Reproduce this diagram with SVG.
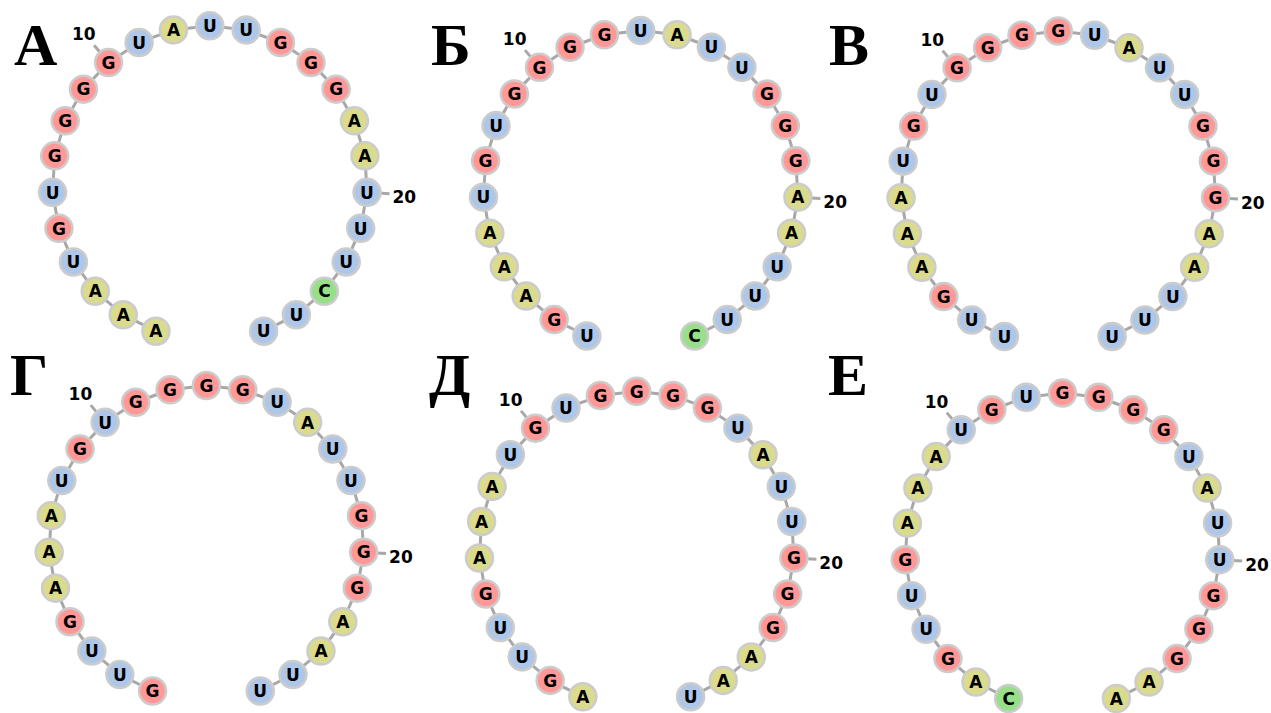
<svg xmlns="http://www.w3.org/2000/svg" xmlns:xlink="http://www.w3.org/1999/xlink" width="1271" height="713" viewBox="0 0 1271 713">
<style>
.bb{fill:none;stroke:#a8a8a8;stroke-width:3;stroke-linejoin:round}
.tk{fill:none;stroke:#a8a8a8;stroke-width:3}
.n circle{stroke:#cccccc;stroke-width:2.5}
.n text{font-family:"DejaVu Sans",Verdana,sans-serif;font-weight:bold;font-size:17px;text-anchor:middle;fill:#000;stroke:none}
.A circle{fill:#dbdb8d}
.U circle{fill:#aec7e8}
.G circle{fill:#ff9896}
.C circle{fill:#98df8a}
.num{font-family:"DejaVu Sans",Verdana,sans-serif;font-weight:bold;font-size:17px;text-anchor:middle;fill:#000}
.title{font-family:"Liberation Serif","Times New Roman",serif;font-weight:bold;font-size:60px;fill:#000}
</style>
<defs>
<polyline id="backbone" class="bb" points="-53.87,148 -86.55,131.59 -114.56,108.08 -136.4,78.75 -150.88,45.17 -157.23,9.16 -155.11,-27.35 -144.62,-62.38 -126.33,-94.05 -101.24,-120.65 -70.69,-140.75 -36.32,-153.26 0,-157.5 36.32,-153.26 70.69,-140.75 101.24,-120.65 126.33,-94.05 144.62,-62.38 155.11,-27.35 157.23,9.16 150.88,45.17 136.4,78.75 114.56,108.08 86.55,131.59 53.87,148"/>
<path id="ticks" class="tk" d="M-101.24,-120.65 L-115.7,-137.89 M157.23,9.16 L179.7,10.47"/>
</defs>

<g id="titles">
<text class="title" x="14" y="65">А</text>
<text class="title" x="431" y="65">Б</text>
<text class="title" x="829" y="65">В</text>
<text class="title" x="10" y="395">Г</text>
<text class="title" x="429" y="395">Д</text>
<text class="title" x="828" y="395">Е</text>
</g>

<g id="connectors">
<g transform="translate(209.8,183.2)"><use xlink:href="#backbone"/><use xlink:href="#ticks"/></g>
<g transform="translate(640.7,188)"><use xlink:href="#backbone"/><use xlink:href="#ticks"/></g>
<g transform="translate(1058.3,188.5)"><use xlink:href="#backbone"/><use xlink:href="#ticks"/></g>
<g transform="translate(206.4,543)"><use xlink:href="#backbone"/><use xlink:href="#ticks"/></g>
<g transform="translate(636.7,548.8)"><use xlink:href="#backbone"/><use xlink:href="#ticks"/></g>
<g transform="translate(1062.5,550.5)"><use xlink:href="#backbone"/><use xlink:href="#ticks"/></g>
</g>

<g id="panel-A" transform="translate(209.8,183.2)">
<text class="num" x="-126" y="-143">10</text>
<text class="num" x="194.5" y="20.1">20</text>
<g id="A-1" class="n A" transform="translate(-53.87,148)"><circle r="13.5"/><text y="6.2">A</text></g>
<g id="A-2" class="n A" transform="translate(-86.55,131.59)"><circle r="13.5"/><text y="6.2">A</text></g>
<g id="A-3" class="n A" transform="translate(-114.56,108.08)"><circle r="13.5"/><text y="6.2">A</text></g>
<g id="A-4" class="n U" transform="translate(-136.4,78.75)"><circle r="13.5"/><text y="6.2">U</text></g>
<g id="A-5" class="n G" transform="translate(-150.88,45.17)"><circle r="13.5"/><text y="6.2">G</text></g>
<g id="A-6" class="n U" transform="translate(-157.23,9.16)"><circle r="13.5"/><text y="6.2">U</text></g>
<g id="A-7" class="n G" transform="translate(-155.11,-27.35)"><circle r="13.5"/><text y="6.2">G</text></g>
<g id="A-8" class="n G" transform="translate(-144.62,-62.38)"><circle r="13.5"/><text y="6.2">G</text></g>
<g id="A-9" class="n G" transform="translate(-126.33,-94.05)"><circle r="13.5"/><text y="6.2">G</text></g>
<g id="A-10" class="n G" transform="translate(-101.24,-120.65)"><circle r="13.5"/><text y="6.2">G</text></g>
<g id="A-11" class="n U" transform="translate(-70.69,-140.75)"><circle r="13.5"/><text y="6.2">U</text></g>
<g id="A-12" class="n A" transform="translate(-36.32,-153.26)"><circle r="13.5"/><text y="6.2">A</text></g>
<g id="A-13" class="n U" transform="translate(0,-157.5)"><circle r="13.5"/><text y="6.2">U</text></g>
<g id="A-14" class="n U" transform="translate(36.32,-153.26)"><circle r="13.5"/><text y="6.2">U</text></g>
<g id="A-15" class="n G" transform="translate(70.69,-140.75)"><circle r="13.5"/><text y="6.2">G</text></g>
<g id="A-16" class="n G" transform="translate(101.24,-120.65)"><circle r="13.5"/><text y="6.2">G</text></g>
<g id="A-17" class="n G" transform="translate(126.33,-94.05)"><circle r="13.5"/><text y="6.2">G</text></g>
<g id="A-18" class="n A" transform="translate(144.62,-62.38)"><circle r="13.5"/><text y="6.2">A</text></g>
<g id="A-19" class="n A" transform="translate(155.11,-27.35)"><circle r="13.5"/><text y="6.2">A</text></g>
<g id="A-20" class="n U" transform="translate(157.23,9.16)"><circle r="13.5"/><text y="6.2">U</text></g>
<g id="A-21" class="n U" transform="translate(150.88,45.17)"><circle r="13.5"/><text y="6.2">U</text></g>
<g id="A-22" class="n U" transform="translate(136.4,78.75)"><circle r="13.5"/><text y="6.2">U</text></g>
<g id="A-23" class="n C" transform="translate(114.56,108.08)"><circle r="13.5"/><text y="6.2">C</text></g>
<g id="A-24" class="n U" transform="translate(86.55,131.59)"><circle r="13.5"/><text y="6.2">U</text></g>
<g id="A-25" class="n U" transform="translate(53.87,148)"><circle r="13.5"/><text y="6.2">U</text></g>
</g>

<g id="panel-B" transform="translate(640.7,188)">
<text class="num" x="-126" y="-143">10</text>
<text class="num" x="194.5" y="20.1">20</text>
<g id="B-1" class="n U" transform="translate(-53.87,148)"><circle r="13.5"/><text y="6.2">U</text></g>
<g id="B-2" class="n G" transform="translate(-86.55,131.59)"><circle r="13.5"/><text y="6.2">G</text></g>
<g id="B-3" class="n A" transform="translate(-114.56,108.08)"><circle r="13.5"/><text y="6.2">A</text></g>
<g id="B-4" class="n A" transform="translate(-136.4,78.75)"><circle r="13.5"/><text y="6.2">A</text></g>
<g id="B-5" class="n A" transform="translate(-150.88,45.17)"><circle r="13.5"/><text y="6.2">A</text></g>
<g id="B-6" class="n U" transform="translate(-157.23,9.16)"><circle r="13.5"/><text y="6.2">U</text></g>
<g id="B-7" class="n G" transform="translate(-155.11,-27.35)"><circle r="13.5"/><text y="6.2">G</text></g>
<g id="B-8" class="n U" transform="translate(-144.62,-62.38)"><circle r="13.5"/><text y="6.2">U</text></g>
<g id="B-9" class="n G" transform="translate(-126.33,-94.05)"><circle r="13.5"/><text y="6.2">G</text></g>
<g id="B-10" class="n G" transform="translate(-101.24,-120.65)"><circle r="13.5"/><text y="6.2">G</text></g>
<g id="B-11" class="n G" transform="translate(-70.69,-140.75)"><circle r="13.5"/><text y="6.2">G</text></g>
<g id="B-12" class="n G" transform="translate(-36.32,-153.26)"><circle r="13.5"/><text y="6.2">G</text></g>
<g id="B-13" class="n U" transform="translate(0,-157.5)"><circle r="13.5"/><text y="6.2">U</text></g>
<g id="B-14" class="n A" transform="translate(36.32,-153.26)"><circle r="13.5"/><text y="6.2">A</text></g>
<g id="B-15" class="n U" transform="translate(70.69,-140.75)"><circle r="13.5"/><text y="6.2">U</text></g>
<g id="B-16" class="n U" transform="translate(101.24,-120.65)"><circle r="13.5"/><text y="6.2">U</text></g>
<g id="B-17" class="n G" transform="translate(126.33,-94.05)"><circle r="13.5"/><text y="6.2">G</text></g>
<g id="B-18" class="n G" transform="translate(144.62,-62.38)"><circle r="13.5"/><text y="6.2">G</text></g>
<g id="B-19" class="n G" transform="translate(155.11,-27.35)"><circle r="13.5"/><text y="6.2">G</text></g>
<g id="B-20" class="n A" transform="translate(157.23,9.16)"><circle r="13.5"/><text y="6.2">A</text></g>
<g id="B-21" class="n A" transform="translate(150.88,45.17)"><circle r="13.5"/><text y="6.2">A</text></g>
<g id="B-22" class="n U" transform="translate(136.4,78.75)"><circle r="13.5"/><text y="6.2">U</text></g>
<g id="B-23" class="n U" transform="translate(114.56,108.08)"><circle r="13.5"/><text y="6.2">U</text></g>
<g id="B-24" class="n U" transform="translate(86.55,131.59)"><circle r="13.5"/><text y="6.2">U</text></g>
<g id="B-25" class="n C" transform="translate(53.87,148)"><circle r="13.5"/><text y="6.2">C</text></g>
</g>

<g id="panel-V" transform="translate(1058.3,188.5)">
<text class="num" x="-126" y="-143">10</text>
<text class="num" x="194.5" y="20.1">20</text>
<g id="V-1" class="n U" transform="translate(-53.87,148)"><circle r="13.5"/><text y="6.2">U</text></g>
<g id="V-2" class="n U" transform="translate(-86.55,131.59)"><circle r="13.5"/><text y="6.2">U</text></g>
<g id="V-3" class="n G" transform="translate(-114.56,108.08)"><circle r="13.5"/><text y="6.2">G</text></g>
<g id="V-4" class="n A" transform="translate(-136.4,78.75)"><circle r="13.5"/><text y="6.2">A</text></g>
<g id="V-5" class="n A" transform="translate(-150.88,45.17)"><circle r="13.5"/><text y="6.2">A</text></g>
<g id="V-6" class="n A" transform="translate(-157.23,9.16)"><circle r="13.5"/><text y="6.2">A</text></g>
<g id="V-7" class="n U" transform="translate(-155.11,-27.35)"><circle r="13.5"/><text y="6.2">U</text></g>
<g id="V-8" class="n G" transform="translate(-144.62,-62.38)"><circle r="13.5"/><text y="6.2">G</text></g>
<g id="V-9" class="n U" transform="translate(-126.33,-94.05)"><circle r="13.5"/><text y="6.2">U</text></g>
<g id="V-10" class="n G" transform="translate(-101.24,-120.65)"><circle r="13.5"/><text y="6.2">G</text></g>
<g id="V-11" class="n G" transform="translate(-70.69,-140.75)"><circle r="13.5"/><text y="6.2">G</text></g>
<g id="V-12" class="n G" transform="translate(-36.32,-153.26)"><circle r="13.5"/><text y="6.2">G</text></g>
<g id="V-13" class="n G" transform="translate(0,-157.5)"><circle r="13.5"/><text y="6.2">G</text></g>
<g id="V-14" class="n U" transform="translate(36.32,-153.26)"><circle r="13.5"/><text y="6.2">U</text></g>
<g id="V-15" class="n A" transform="translate(70.69,-140.75)"><circle r="13.5"/><text y="6.2">A</text></g>
<g id="V-16" class="n U" transform="translate(101.24,-120.65)"><circle r="13.5"/><text y="6.2">U</text></g>
<g id="V-17" class="n U" transform="translate(126.33,-94.05)"><circle r="13.5"/><text y="6.2">U</text></g>
<g id="V-18" class="n G" transform="translate(144.62,-62.38)"><circle r="13.5"/><text y="6.2">G</text></g>
<g id="V-19" class="n G" transform="translate(155.11,-27.35)"><circle r="13.5"/><text y="6.2">G</text></g>
<g id="V-20" class="n G" transform="translate(157.23,9.16)"><circle r="13.5"/><text y="6.2">G</text></g>
<g id="V-21" class="n A" transform="translate(150.88,45.17)"><circle r="13.5"/><text y="6.2">A</text></g>
<g id="V-22" class="n A" transform="translate(136.4,78.75)"><circle r="13.5"/><text y="6.2">A</text></g>
<g id="V-23" class="n U" transform="translate(114.56,108.08)"><circle r="13.5"/><text y="6.2">U</text></g>
<g id="V-24" class="n U" transform="translate(86.55,131.59)"><circle r="13.5"/><text y="6.2">U</text></g>
<g id="V-25" class="n U" transform="translate(53.87,148)"><circle r="13.5"/><text y="6.2">U</text></g>
</g>

<g id="panel-G" transform="translate(206.4,543)">
<text class="num" x="-126" y="-143">10</text>
<text class="num" x="194.5" y="20.1">20</text>
<g id="G-1" class="n G" transform="translate(-53.87,148)"><circle r="13.5"/><text y="6.2">G</text></g>
<g id="G-2" class="n U" transform="translate(-86.55,131.59)"><circle r="13.5"/><text y="6.2">U</text></g>
<g id="G-3" class="n U" transform="translate(-114.56,108.08)"><circle r="13.5"/><text y="6.2">U</text></g>
<g id="G-4" class="n G" transform="translate(-136.4,78.75)"><circle r="13.5"/><text y="6.2">G</text></g>
<g id="G-5" class="n A" transform="translate(-150.88,45.17)"><circle r="13.5"/><text y="6.2">A</text></g>
<g id="G-6" class="n A" transform="translate(-157.23,9.16)"><circle r="13.5"/><text y="6.2">A</text></g>
<g id="G-7" class="n A" transform="translate(-155.11,-27.35)"><circle r="13.5"/><text y="6.2">A</text></g>
<g id="G-8" class="n U" transform="translate(-144.62,-62.38)"><circle r="13.5"/><text y="6.2">U</text></g>
<g id="G-9" class="n G" transform="translate(-126.33,-94.05)"><circle r="13.5"/><text y="6.2">G</text></g>
<g id="G-10" class="n U" transform="translate(-101.24,-120.65)"><circle r="13.5"/><text y="6.2">U</text></g>
<g id="G-11" class="n G" transform="translate(-70.69,-140.75)"><circle r="13.5"/><text y="6.2">G</text></g>
<g id="G-12" class="n G" transform="translate(-36.32,-153.26)"><circle r="13.5"/><text y="6.2">G</text></g>
<g id="G-13" class="n G" transform="translate(0,-157.5)"><circle r="13.5"/><text y="6.2">G</text></g>
<g id="G-14" class="n G" transform="translate(36.32,-153.26)"><circle r="13.5"/><text y="6.2">G</text></g>
<g id="G-15" class="n U" transform="translate(70.69,-140.75)"><circle r="13.5"/><text y="6.2">U</text></g>
<g id="G-16" class="n A" transform="translate(101.24,-120.65)"><circle r="13.5"/><text y="6.2">A</text></g>
<g id="G-17" class="n U" transform="translate(126.33,-94.05)"><circle r="13.5"/><text y="6.2">U</text></g>
<g id="G-18" class="n U" transform="translate(144.62,-62.38)"><circle r="13.5"/><text y="6.2">U</text></g>
<g id="G-19" class="n G" transform="translate(155.11,-27.35)"><circle r="13.5"/><text y="6.2">G</text></g>
<g id="G-20" class="n G" transform="translate(157.23,9.16)"><circle r="13.5"/><text y="6.2">G</text></g>
<g id="G-21" class="n G" transform="translate(150.88,45.17)"><circle r="13.5"/><text y="6.2">G</text></g>
<g id="G-22" class="n A" transform="translate(136.4,78.75)"><circle r="13.5"/><text y="6.2">A</text></g>
<g id="G-23" class="n A" transform="translate(114.56,108.08)"><circle r="13.5"/><text y="6.2">A</text></g>
<g id="G-24" class="n U" transform="translate(86.55,131.59)"><circle r="13.5"/><text y="6.2">U</text></g>
<g id="G-25" class="n U" transform="translate(53.87,148)"><circle r="13.5"/><text y="6.2">U</text></g>
</g>

<g id="panel-D" transform="translate(636.7,548.8)">
<text class="num" x="-126" y="-143">10</text>
<text class="num" x="194.5" y="20.1">20</text>
<g id="D-1" class="n A" transform="translate(-53.87,148)"><circle r="13.5"/><text y="6.2">A</text></g>
<g id="D-2" class="n G" transform="translate(-86.55,131.59)"><circle r="13.5"/><text y="6.2">G</text></g>
<g id="D-3" class="n U" transform="translate(-114.56,108.08)"><circle r="13.5"/><text y="6.2">U</text></g>
<g id="D-4" class="n U" transform="translate(-136.4,78.75)"><circle r="13.5"/><text y="6.2">U</text></g>
<g id="D-5" class="n G" transform="translate(-150.88,45.17)"><circle r="13.5"/><text y="6.2">G</text></g>
<g id="D-6" class="n A" transform="translate(-157.23,9.16)"><circle r="13.5"/><text y="6.2">A</text></g>
<g id="D-7" class="n A" transform="translate(-155.11,-27.35)"><circle r="13.5"/><text y="6.2">A</text></g>
<g id="D-8" class="n A" transform="translate(-144.62,-62.38)"><circle r="13.5"/><text y="6.2">A</text></g>
<g id="D-9" class="n U" transform="translate(-126.33,-94.05)"><circle r="13.5"/><text y="6.2">U</text></g>
<g id="D-10" class="n G" transform="translate(-101.24,-120.65)"><circle r="13.5"/><text y="6.2">G</text></g>
<g id="D-11" class="n U" transform="translate(-70.69,-140.75)"><circle r="13.5"/><text y="6.2">U</text></g>
<g id="D-12" class="n G" transform="translate(-36.32,-153.26)"><circle r="13.5"/><text y="6.2">G</text></g>
<g id="D-13" class="n G" transform="translate(0,-157.5)"><circle r="13.5"/><text y="6.2">G</text></g>
<g id="D-14" class="n G" transform="translate(36.32,-153.26)"><circle r="13.5"/><text y="6.2">G</text></g>
<g id="D-15" class="n G" transform="translate(70.69,-140.75)"><circle r="13.5"/><text y="6.2">G</text></g>
<g id="D-16" class="n U" transform="translate(101.24,-120.65)"><circle r="13.5"/><text y="6.2">U</text></g>
<g id="D-17" class="n A" transform="translate(126.33,-94.05)"><circle r="13.5"/><text y="6.2">A</text></g>
<g id="D-18" class="n U" transform="translate(144.62,-62.38)"><circle r="13.5"/><text y="6.2">U</text></g>
<g id="D-19" class="n U" transform="translate(155.11,-27.35)"><circle r="13.5"/><text y="6.2">U</text></g>
<g id="D-20" class="n G" transform="translate(157.23,9.16)"><circle r="13.5"/><text y="6.2">G</text></g>
<g id="D-21" class="n G" transform="translate(150.88,45.17)"><circle r="13.5"/><text y="6.2">G</text></g>
<g id="D-22" class="n G" transform="translate(136.4,78.75)"><circle r="13.5"/><text y="6.2">G</text></g>
<g id="D-23" class="n A" transform="translate(114.56,108.08)"><circle r="13.5"/><text y="6.2">A</text></g>
<g id="D-24" class="n A" transform="translate(86.55,131.59)"><circle r="13.5"/><text y="6.2">A</text></g>
<g id="D-25" class="n U" transform="translate(53.87,148)"><circle r="13.5"/><text y="6.2">U</text></g>
</g>

<g id="panel-E" transform="translate(1062.5,550.5)">
<text class="num" x="-126" y="-143">10</text>
<text class="num" x="194.5" y="20.1">20</text>
<g id="E-1" class="n C" transform="translate(-53.87,148)"><circle r="13.5"/><text y="6.2">C</text></g>
<g id="E-2" class="n A" transform="translate(-86.55,131.59)"><circle r="13.5"/><text y="6.2">A</text></g>
<g id="E-3" class="n G" transform="translate(-114.56,108.08)"><circle r="13.5"/><text y="6.2">G</text></g>
<g id="E-4" class="n U" transform="translate(-136.4,78.75)"><circle r="13.5"/><text y="6.2">U</text></g>
<g id="E-5" class="n U" transform="translate(-150.88,45.17)"><circle r="13.5"/><text y="6.2">U</text></g>
<g id="E-6" class="n G" transform="translate(-157.23,9.16)"><circle r="13.5"/><text y="6.2">G</text></g>
<g id="E-7" class="n A" transform="translate(-155.11,-27.35)"><circle r="13.5"/><text y="6.2">A</text></g>
<g id="E-8" class="n A" transform="translate(-144.62,-62.38)"><circle r="13.5"/><text y="6.2">A</text></g>
<g id="E-9" class="n A" transform="translate(-126.33,-94.05)"><circle r="13.5"/><text y="6.2">A</text></g>
<g id="E-10" class="n U" transform="translate(-101.24,-120.65)"><circle r="13.5"/><text y="6.2">U</text></g>
<g id="E-11" class="n G" transform="translate(-70.69,-140.75)"><circle r="13.5"/><text y="6.2">G</text></g>
<g id="E-12" class="n U" transform="translate(-36.32,-153.26)"><circle r="13.5"/><text y="6.2">U</text></g>
<g id="E-13" class="n G" transform="translate(0,-157.5)"><circle r="13.5"/><text y="6.2">G</text></g>
<g id="E-14" class="n G" transform="translate(36.32,-153.26)"><circle r="13.5"/><text y="6.2">G</text></g>
<g id="E-15" class="n G" transform="translate(70.69,-140.75)"><circle r="13.5"/><text y="6.2">G</text></g>
<g id="E-16" class="n G" transform="translate(101.24,-120.65)"><circle r="13.5"/><text y="6.2">G</text></g>
<g id="E-17" class="n U" transform="translate(126.33,-94.05)"><circle r="13.5"/><text y="6.2">U</text></g>
<g id="E-18" class="n A" transform="translate(144.62,-62.38)"><circle r="13.5"/><text y="6.2">A</text></g>
<g id="E-19" class="n U" transform="translate(155.11,-27.35)"><circle r="13.5"/><text y="6.2">U</text></g>
<g id="E-20" class="n U" transform="translate(157.23,9.16)"><circle r="13.5"/><text y="6.2">U</text></g>
<g id="E-21" class="n G" transform="translate(150.88,45.17)"><circle r="13.5"/><text y="6.2">G</text></g>
<g id="E-22" class="n G" transform="translate(136.4,78.75)"><circle r="13.5"/><text y="6.2">G</text></g>
<g id="E-23" class="n G" transform="translate(114.56,108.08)"><circle r="13.5"/><text y="6.2">G</text></g>
<g id="E-24" class="n A" transform="translate(86.55,131.59)"><circle r="13.5"/><text y="6.2">A</text></g>
<g id="E-25" class="n A" transform="translate(53.87,148)"><circle r="13.5"/><text y="6.2">A</text></g>
</g>
</svg>
